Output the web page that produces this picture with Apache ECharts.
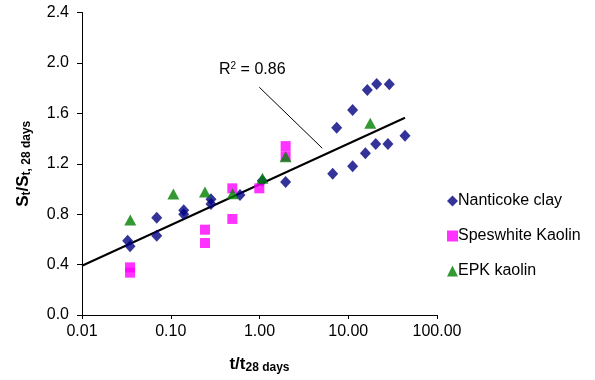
<!DOCTYPE html>
<html>
<head>
<meta charset="utf-8">
<script src="https://cdn.jsdelivr.net/npm/echarts@6/dist/echarts.min.js"></script>
<style>
  html, body { margin: 0; padding: 0; background: #fff; }
  #chart { width: 595px; height: 380px; }
</style>
</head>
<body>
<div id="chart"></div>
<script>
// Strength ratio vs. normalised time, three clays
const nanticokeT = [0.0327, 0.0348, 0.0695, 0.0695, 0.140, 0.140, 0.284, 0.284, 0.603, 1.076, 1.97, 6.68, 7.41, 11.2, 11.2, 15.6, 16.4, 20.4, 20.9, 28.0, 29.0, 43.6];
const nanticokeS = [0.589, 0.545, 0.772, 0.629, 0.831, 0.799, 0.918, 0.881, 0.952, 1.066, 1.055, 1.121, 1.486, 1.627, 1.180, 1.283, 1.785, 1.357, 1.833, 1.357, 1.830, 1.423];

const speswhiteT = [0.0348, 0.0348, 0.243, 0.243, 0.494, 0.494, 0.995, 1.97, 1.97];
const speswhiteS = [0.378, 0.336, 0.677, 0.571, 1.005, 0.762, 1.005, 1.34, 1.26];

const epkT = [0.035, 0.107, 0.243, 0.498, 1.08, 1.97, 17.7];
const epkS = [0.754, 0.960, 0.976, 0.962, 1.085, 1.256, 1.521];

// Logarithmic trend line end points
const trendT = [0.01, 43.6];
const trendS = [0.391, 1.565];

// Annotation: label anchor and arrow (start, tip)
const r2Label = 'R{sup|2} = 0.86';
const r2Anchor = [0.35, 1.944];
const arrowStart = [0.995, 1.807];
const arrowEnd = [5.1, 1.323];

const xTickLabels = ['0.01', '0.10', '1.00', '10.00', '100.00'];
const yTickLabels = ['0.0', '0.4', '0.8', '1.2', '1.6', '2.0', '2.4'];

const seriesNames = ['Nanticoke clay', 'Speswhite Kaolin', 'EPK kaolin'];

const zip = (a, b) => a.map((v, i) => [v, b[i]]);
const FONT = '"Liberation Sans", Arial, sans-serif';

const chart = echarts.init(document.getElementById('chart'), null, { renderer: 'canvas' });

const titleRich = {
  b: { fontFamily: FONT, fontSize: 17, fontWeight: 'bold', color: '#000' },
  s: { fontFamily: FONT, fontSize: 12, fontWeight: 'bold', color: '#000', verticalAlign: 'bottom', padding: [7, 0, 0, 0] }
};

chart.setOption({
  animation: false,
  backgroundColor: '#ffffff',
  textStyle: { fontFamily: FONT },
  grid: { left: 82, right: 158, top: 12.5, bottom: 65, containLabel: false },
  xAxis: {
    type: 'log',
    logBase: 10,
    min: 0.01,
    max: 100,
    name: '{b|t/t}{s|28 days}',
    nameLocation: 'middle',
    nameGap: 40,
    nameTextStyle: { rich: titleRich },
    axisLine: { lineStyle: { color: '#000', width: 1 } },
    axisTick: { show: true, inside: false, length: 4, lineStyle: { color: '#000' } },
    minorTick: { show: false },
    splitLine: { show: false },
    axisLabel: {
      fontFamily: FONT, fontSize: 16, color: '#000', margin: 9,
      formatter: v => xTickLabels[Math.round(Math.log10(v)) + 2]
    }
  },
  yAxis: {
    type: 'value',
    min: 0,
    max: 2.4,
    interval: 0.4,
    name: '{b|S}{s|t}{b|/S}{s|t, 28 days}',
    nameLocation: 'middle',
    nameGap: 49,
    nameRotate: 90,
    nameTextStyle: { rich: titleRich },
    axisLine: { show: true, lineStyle: { color: '#000', width: 1 } },
    axisTick: { show: true, inside: false, length: 5, lineStyle: { color: '#000' } },
    splitLine: { show: false },
    axisLabel: {
      fontFamily: FONT, fontSize: 16, color: '#000', margin: 13,
      formatter: v => yTickLabels[Math.round(v / 0.4)]
    }
  },
  legend: {
    orient: 'vertical',
    left: 442,
    top: 188,
    itemWidth: 11,
    itemHeight: 11,
    itemGap: 19,
    data: seriesNames,
    textStyle: { fontFamily: FONT, fontSize: 16, color: '#000', padding: [0, 0, 0, -5] }
  },
  series: [
    {
      name: 'trend',
      type: 'line',
      data: zip(trendT, trendS),
      showSymbol: false,
      symbol: 'none',
      lineStyle: { color: '#000', width: 2 },
      silent: true,
      z: 3,
      markLine: {
        silent: true,
        symbol: ['none', 'arrow'],
        symbolSize: [0, 9],
        lineStyle: { color: '#000', width: 1, type: 'solid' },
        label: { show: false },
        data: [[{ coord: arrowStart }, { coord: arrowEnd }]]
      },
      markPoint: {
        silent: true,
        symbol: 'circle',
        symbolSize: 0,
        data: [{ coord: r2Anchor }],
        label: {
          show: true,
          position: 'inside',
          align: 'left',
          verticalAlign: 'middle',
          formatter: r2Label,
          fontFamily: FONT,
          fontSize: 16,
          color: '#000',
          rich: {
            sup: { fontFamily: FONT, fontSize: 10, color: '#000', verticalAlign: 'top', padding: [0, 0, 8, 0] }
          }
        }
      }
    },
    {
      name: seriesNames[0],
      type: 'scatter',
      data: zip(nanticokeT, nanticokeS),
      symbol: 'diamond',
      symbolSize: [11, 12],
      itemStyle: { color: '#000080' },
      z: 4
    },
    {
      name: seriesNames[1],
      type: 'scatter',
      data: zip(speswhiteT, speswhiteS),
      symbol: 'rect',
      symbolSize: 10,
      itemStyle: { color: '#ff00ff' },
      z: 5
    },
    {
      name: seriesNames[2],
      type: 'scatter',
      data: zip(epkT, epkS),
      symbol: 'triangle',
      symbolSize: [12, 11],
      itemStyle: { color: '#008000' },
      z: 6
    }
  ]
});
</script>
</body>
</html>
